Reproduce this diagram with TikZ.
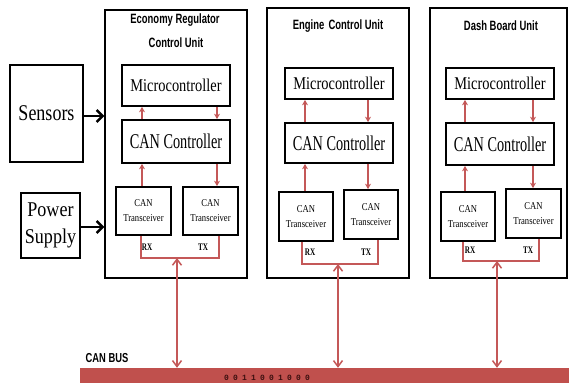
\documentclass[tikz,border=0pt]{standalone}
\usepackage{graphicx}
\usepackage{fontspec}
\setmainfont{Liberation Serif}
\newfontfamily\titlefont{Liberation Sans}
\newfontfamily\digitfont{Liberation Mono}
\usetikzlibrary{arrows.meta}
\definecolor{canred}{RGB}{192,80,77}
\definecolor{arrred}{RGB}{196,88,88}
\definecolor{digitcol}{RGB}{60,15,15}
\newcommand{\cnd}[3]{\scalebox{#1}[1]{\fontsize{#2}{#2}\selectfont #3}}
\newcommand{\ttl}[3]{\scalebox{#1}[1]{\titlefont\bfseries\fontsize{#2}{#2}\selectfont #3}}
\newcommand{\rxtx}[1]{\scalebox{0.72}[1]{\bfseries\fontsize{10}{10}\selectfont #1}}
\newcommand{\trx}{\scalebox{0.82}[1]{\fontsize{10.5}{15}\selectfont\begin{tabular}{@{}c@{}}CAN\\Transceiver\end{tabular}}}
\newcommand{\dg}[1]{\makebox[9pt]{#1}}
\tikzset{
  unitbox/.style={draw, line width=1.4pt, inner sep=0pt},
  ibox/.style={draw, line width=1.7pt, inner sep=0pt, fill=white},
  extbox/.style={draw, line width=1.7pt, inner sep=0pt},
  redarr/.style={draw=arrred, line width=1.4pt, -{Stealth[length=5.5pt,width=6pt]}},
  redline/.style={draw=arrred, line width=1.5pt},
  busarr/.style={draw=arrred, line width=1.5pt, {Straight Barb[length=6pt,width=9pt]}-{Straight Barb[length=6pt,width=9pt]}},
  blackarr/.style={draw=black, line width=2.4pt, -{Straight Barb[length=6pt,width=12pt]}},
  lbl/.style={inner sep=0pt},
}
\begin{document}
\begin{tikzpicture}[x=1pt,y=-1pt]
\useasboundingbox (0,0) rectangle (569,383);

% CAN bus
\node[fill=canred, minimum width=489pt, minimum height=15pt, inner sep=0pt] (bus) at (324.5,375.5) {};
\node[lbl] (buslbl) at (107,358) {\ttl{0.72}{13}{CAN BUS}};
\node[lbl] (bits) at (267,377.5) {\digitfont\bfseries\color{digitcol}\fontsize{8}{8}\selectfont \dg{0}\dg{0}\dg{1}\dg{1}\dg{0}\dg{0}\dg{1}\dg{0}\dg{0}\dg{0}};

% external boxes
\node[extbox, minimum width=73pt, minimum height=97pt] (sensors) at (46.5,113.5) {\cnd{0.8}{22.5}{Sensors}};
\node[extbox, minimum width=59pt, minimum height=65pt] (power) at (50.5,225.5) {\cnd{0.86}{21}{\begin{tabular}{@{}c@{}}Power\\[6pt]Supply\end{tabular}}};

% ===== Economy Regulator Control Unit =====
\node[unitbox, minimum width=142pt, minimum height=268pt] (ercu) at (176,144) {};
\node[lbl] (ercut1) at (175,20) {\ttl{0.7}{13.5}{Economy Regulator}};
\node[lbl] (ercut2) at (176,43) {\ttl{0.7}{13.5}{Control Unit}};
\node[ibox, minimum width=108pt, minimum height=41pt] (ermc) at (176,85.5) {\cnd{0.8}{18}{Microcontroller}};
\node[ibox, minimum width=108pt, minimum height=43pt] (ercc) at (176,141.5) {\cnd{0.68}{21}{CAN Controller}};
\node[ibox, minimum width=55pt, minimum height=48pt] (ertl) at (143.5,211) {\trx};
\node[ibox, minimum width=55pt, minimum height=48pt] (ertr) at (210.5,211) {\trx};
\node[lbl] (errx) at (147,247) {\rxtx{RX}};
\node[lbl] (ertx) at (203,247) {\rxtx{TX}};
\coordinate (erbl) at (141,258);
\coordinate (erbr) at (219,258);
\coordinate (erbm) at (177,258);
\draw[redarr] (ercc.north -| 142,0) -- (ermc.south -| 142,0);
\draw[redarr] (ermc.south -| 217,0) -- (ercc.north -| 217,0);
\draw[redarr] (ertl.north -| 142,0) -- (ercc.south -| 142,0);
\draw[redarr] (ercc.south -| 217,0) -- (ertr.north -| 217,0);
\draw[redline] (ertl.south -| erbl) -- (erbl) -- (erbr) -- (ertr.south -| erbr);
\draw[busarr] (erbm) -- (erbm |- bus.north);
\draw[blackarr] (sensors.east |- 0,116) -- (ercu.west |- 0,116);
\draw[blackarr] (power.east |- 0,227) -- (ercu.west |- 0,227);

% ===== Engine Control Unit =====
\node[unitbox, minimum width=142pt, minimum height=270pt] (ecu) at (338,143) {};
\node[lbl] (ecut) at (338,26) {\ttl{0.7}{13.5}{Engine\, Control Unit}};
\node[ibox, minimum width=108pt, minimum height=31pt] (ecmc) at (339,83.5) {\cnd{0.8}{18}{Microcontroller}};
\node[ibox, minimum width=108pt, minimum height=40pt] (eccc) at (339,143) {\cnd{0.68}{21}{CAN Controller}};
\node[ibox, minimum width=54pt, minimum height=49pt] (ectl) at (306,216.5) {\trx};
\node[ibox, minimum width=54pt, minimum height=49pt] (ectr) at (371,214.5) {\trx};
\node[lbl] (ecrx) at (310,252) {\rxtx{RX}};
\node[lbl] (ectx) at (366,252) {\rxtx{TX}};
\coordinate (ecbl) at (302,264);
\coordinate (ecbr) at (378,264);
\coordinate (ecbm) at (338,264);
\draw[redarr] (eccc.north -| 305,0) -- (ecmc.south -| 305,0);
\draw[redarr] (ecmc.south -| 368,0) -- (eccc.north -| 368,0);
\draw[redarr] (ectl.north -| 305,0) -- (eccc.south -| 305,0);
\draw[redarr] (eccc.south -| 368,0) -- (ectr.north -| 368,0);
\draw[redline] (ectl.south -| ecbl) -- (ecbl) -- (ecbr) -- (ectr.south -| ecbr);
\draw[busarr] (ecbm) -- (ecbm |- bus.north);

% ===== Dash Board Unit =====
\node[unitbox, minimum width=137pt, minimum height=270pt] (dbu) at (498.5,143) {};
\node[lbl] (dbut) at (501,26) {\ttl{0.7}{13.5}{Dash Board Unit}};
\node[ibox, minimum width=108pt, minimum height=31pt] (dbmc) at (500,83.5) {\cnd{0.8}{18}{Microcontroller}};
\node[ibox, minimum width=108pt, minimum height=42pt] (dbcc) at (500,144) {\cnd{0.68}{21}{CAN Controller}};
\node[ibox, minimum width=54pt, minimum height=49pt] (dbtl) at (468,216.5) {\trx};
\node[ibox, minimum width=55pt, minimum height=49pt] (dbtr) at (533.5,213.5) {\trx};
\node[lbl] (dbrx) at (470,250) {\rxtx{RX}};
\node[lbl] (dbtx) at (528,250) {\rxtx{TX}};
\coordinate (dbbl) at (463,261);
\coordinate (dbbr) at (539,261);
\coordinate (dbbm) at (497,261);
\draw[redarr] (dbcc.north -| 465,0) -- (dbmc.south -| 465,0);
\draw[redarr] (dbmc.south -| 533,0) -- (dbcc.north -| 533,0);
\draw[redarr] (dbtl.north -| 465,0) -- (dbcc.south -| 465,0);
\draw[redarr] (dbcc.south -| 533,0) -- (dbtr.north -| 533,0);
\draw[redline] (dbtl.south -| dbbl) -- (dbbl) -- (dbbr) -- (dbtr.south -| dbbr);
\draw[busarr] (dbbm) -- (dbbm |- bus.north);
\end{tikzpicture}
\end{document}
